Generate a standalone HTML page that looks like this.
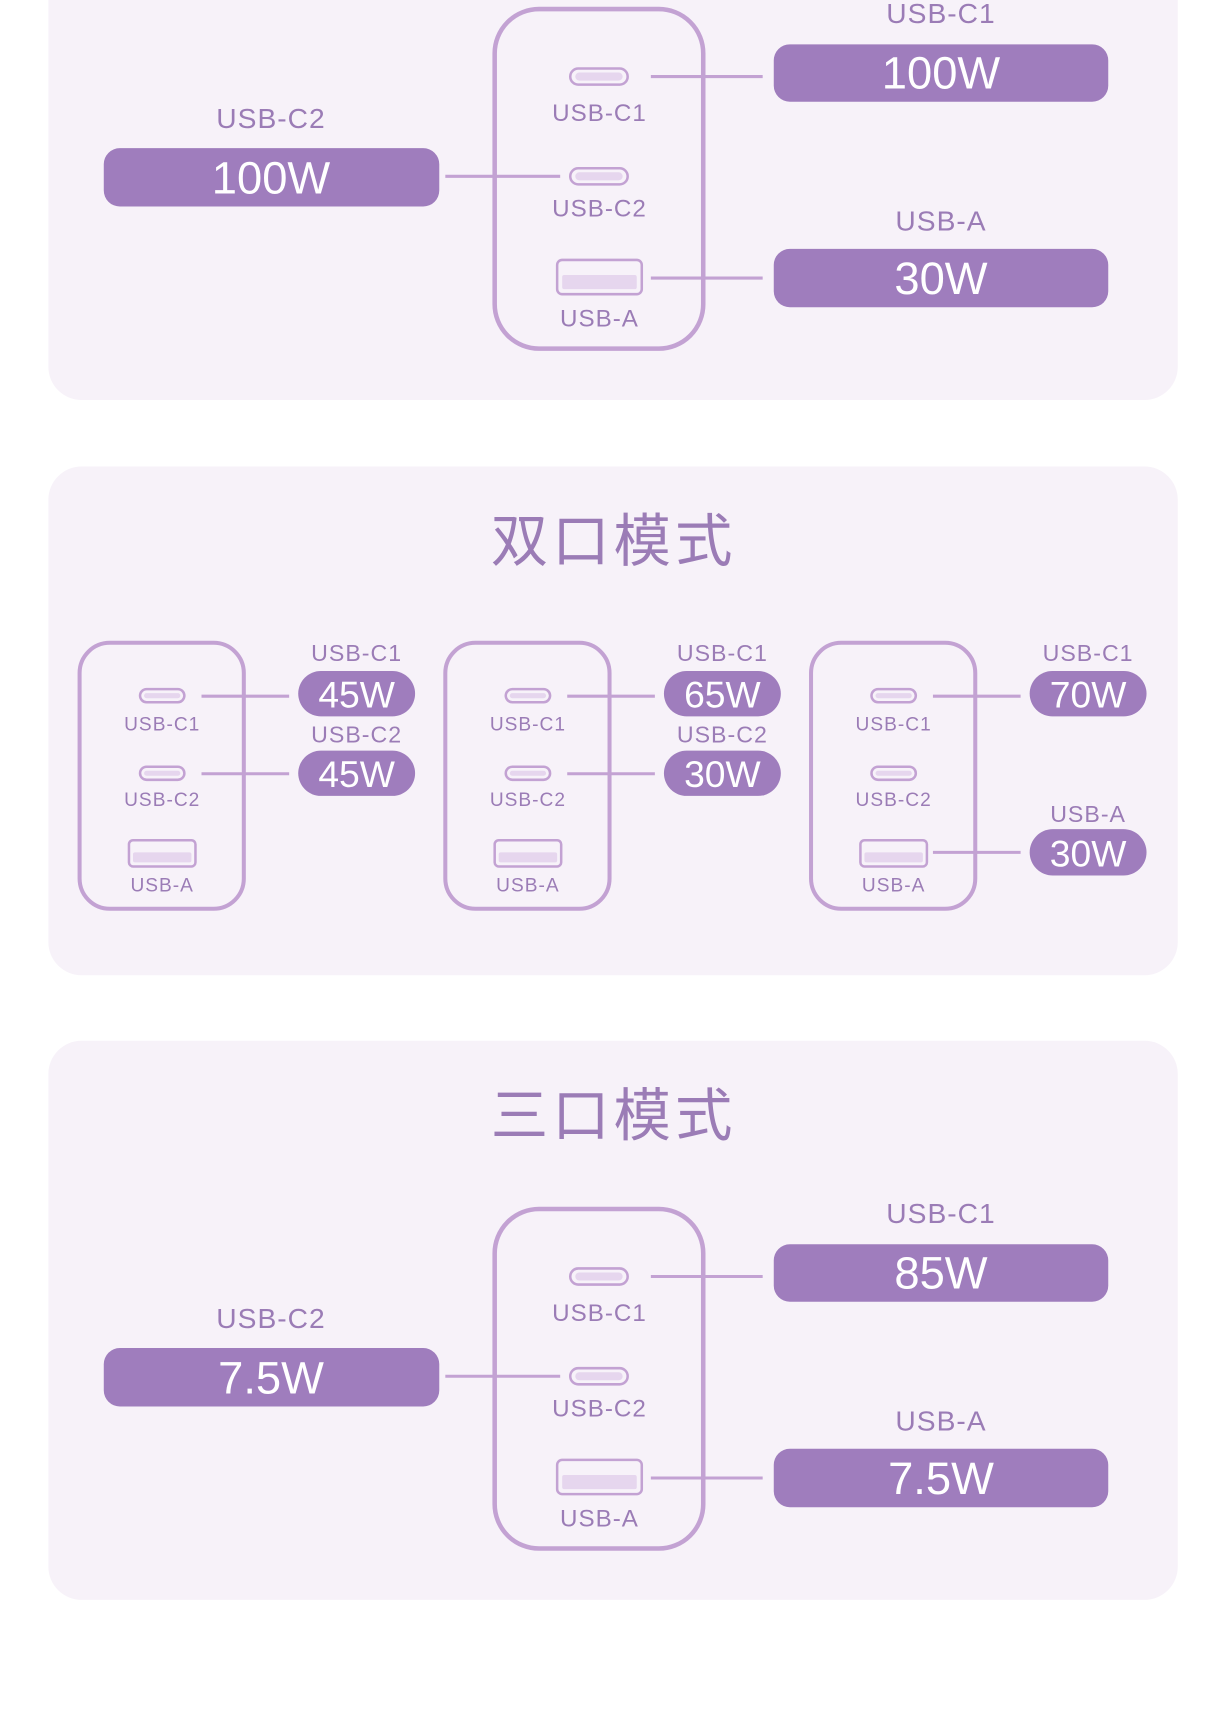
<!DOCTYPE html>
<html><head><meta charset="utf-8"><style>
html,body{margin:0;padding:0;background:#fff;}
svg{display:block;}
text{font-family:"Liberation Sans","Noto Sans CJK SC",sans-serif;}
</style></head><body>
<svg width="1226" height="1729" viewBox="0 0 1226 1729" xmlns="http://www.w3.org/2000/svg">
<defs>
<style>
.pn{fill:#f7f2f9}
.ch{fill:none;stroke:#c3a2d3;stroke-width:4.5}
.pt{fill:#f7f2f9;stroke:#c3a2d3;stroke-width:2.5}
.pi{fill:#e6d6ee}
.ln{stroke:#c3a2d3;stroke-width:3}
.pl{fill:#9f7dbd}
.lb{fill:#9b7cb6;text-anchor:middle;letter-spacing:1px}
.pw{fill:#fff;text-anchor:middle}
.tt{fill:#9b7cb6;text-anchor:middle;font-size:57px;letter-spacing:4px}
</style>
</defs>
<g transform="scale(1.0075)">
<rect class="pn" x="48" y="-40" width="1121" height="437" rx="33"/>
<rect class="pn" x="48" y="463" width="1121" height="505" rx="33"/>
<rect class="pn" x="48" y="1033" width="1121" height="555" rx="33"/>

<g id="big">
<rect class="ch" x="491" y="9" width="207" height="337" rx="44"/>
<rect class="pt" x="566" y="68" width="57" height="16" rx="8"/><rect class="pi" x="571" y="72" width="47" height="8" rx="4"/>
<rect class="pt" x="566" y="167" width="57" height="16" rx="8"/><rect class="pi" x="571" y="171" width="47" height="8" rx="4"/>
<rect class="pt" x="553" y="258" width="84" height="34" rx="5"/><rect class="pi" x="558" y="273" width="74" height="14" rx="2"/>
<line class="ln" x1="646" y1="76" x2="757" y2="76"/>
<line class="ln" x1="442" y1="175" x2="556" y2="175"/>
<line class="ln" x1="646" y1="276" x2="757" y2="276"/>
<rect class="pl" x="768" y="44" width="332" height="57" rx="16"/>
<rect class="pl" x="103" y="147" width="333" height="58" rx="16"/>
<rect class="pl" x="768" y="247" width="332" height="58" rx="16"/>
<text class="lb" x="595" y="120" font-size="24">USB-C1</text>
<text class="lb" x="595" y="215" font-size="24">USB-C2</text>
<text class="lb" x="595" y="324" font-size="24">USB-A</text>
<text class="lb" x="269" y="127" font-size="28">USB-C2</text>
<text class="lb" x="934" y="229" font-size="28">USB-A</text>
</g>
<text class="lb" x="934" y="23" font-size="28">USB-C1</text>
<text class="pw" x="934" y="88" font-size="45">100W</text>
<text class="pw" x="269" y="192" font-size="45">100W</text>
<text class="pw" x="934" y="292" font-size="45">30W</text>

<text class="tt" x="609" y="557">双口模式</text>
<g id="sm">
<rect class="ch" x="79" y="638" width="163" height="264" rx="30" style="stroke-width:4"/>
<rect class="pt" x="139" y="684" width="44" height="13" rx="6.5"/><rect class="pi" x="143" y="688" width="36" height="5" rx="2.5"/>
<rect class="pt" x="139" y="761" width="44" height="13" rx="6.5"/><rect class="pi" x="143" y="765" width="36" height="5" rx="2.5"/>
<rect class="pt" x="128" y="834" width="66" height="26" rx="4"/><rect class="pi" x="132" y="846" width="58" height="10" rx="2"/>
<text class="lb" x="161" y="725" font-size="19">USB-C1</text>
<text class="lb" x="161" y="800" font-size="19">USB-C2</text>
<text class="lb" x="161" y="885" font-size="19">USB-A</text>
</g>
<use href="#sm" x="363"/>
<use href="#sm" x="726"/>
<line class="ln" x1="200" y1="691" x2="287" y2="691"/>
<line class="ln" x1="200" y1="768" x2="287" y2="768"/>
<rect class="pl" x="296" y="666" width="116" height="45" rx="22.5"/>
<rect class="pl" x="296" y="745" width="116" height="45" rx="22.5"/>
<text class="lb" x="354" y="656" font-size="23">USB-C1</text>
<text class="lb" x="354" y="737" font-size="23">USB-C2</text>
<text class="pw" x="354" y="702" font-size="37">45W</text>
<text class="pw" x="354" y="781" font-size="37">45W</text>
<line class="ln" x1="563" y1="691" x2="650" y2="691"/>
<line class="ln" x1="563" y1="768" x2="650" y2="768"/>
<rect class="pl" x="659" y="666" width="116" height="45" rx="22.5"/>
<rect class="pl" x="659" y="745" width="116" height="45" rx="22.5"/>
<text class="lb" x="717" y="656" font-size="23">USB-C1</text>
<text class="lb" x="717" y="737" font-size="23">USB-C2</text>
<text class="pw" x="717" y="702" font-size="37">65W</text>
<text class="pw" x="717" y="781" font-size="37">30W</text>
<line class="ln" x1="926" y1="691" x2="1013" y2="691"/>
<line class="ln" x1="926" y1="846" x2="1013" y2="846"/>
<rect class="pl" x="1022" y="666" width="116" height="45" rx="22.5"/>
<rect class="pl" x="1022" y="823" width="116" height="46" rx="23"/>
<text class="lb" x="1080" y="656" font-size="23">USB-C1</text>
<text class="lb" x="1080" y="816" font-size="23">USB-A</text>
<text class="pw" x="1080" y="702" font-size="37">70W</text>
<text class="pw" x="1080" y="860" font-size="37">30W</text>

<text class="tt" x="609" y="1127">三口模式</text>
<use href="#big" y="1191"/>
<text class="lb" x="934" y="1214" font-size="28">USB-C1</text>
<text class="pw" x="934" y="1279" font-size="45">85W</text>
<text class="pw" x="269" y="1383" font-size="45">7.5W</text>
<text class="pw" x="934" y="1483" font-size="45">7.5W</text>
</g>
</svg>
</body></html>
